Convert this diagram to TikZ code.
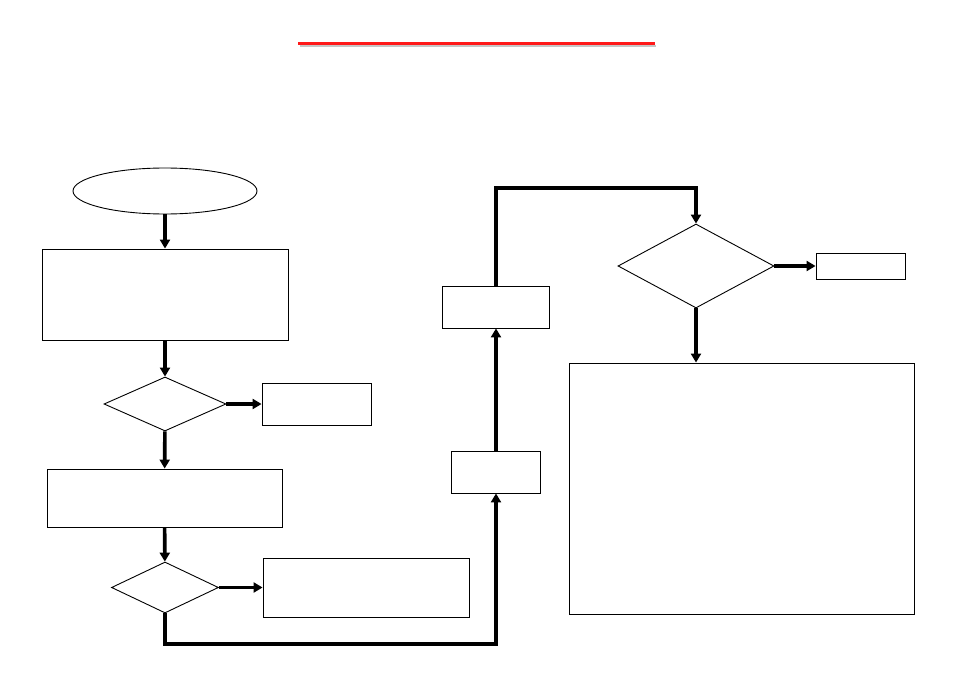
\documentclass[tikz,border=0pt]{standalone}
\usetikzlibrary{shapes.geometric,arrows.meta}

\begin{document}
\begin{tikzpicture}[x=1pt,y=-1pt,
    box/.style={draw,line width=0.9pt,inner sep=0pt},
    choice/.style={draw,diamond,line width=0.9pt,inner sep=0pt},
    flow/.style={line width=3.6pt,-{Triangle[length=9pt,width=10pt]}}]
      \useasboundingbox (0,0) rectangle (954,674);

      % title rule with its shadow
      \draw[line width=2.6pt,gray!45] (300,46) -- (656,46);
      \draw[line width=3pt,red!90!white] (298,44) -- (655,44);

      \node[draw,ellipse,line width=0.9pt,minimum width=184,minimum height=46] (start) at (165,191) {};
      \node[box,minimum width=246,minimum height=91] (b1) at (165,294.5) {};
      \node[choice,minimum width=122,minimum height=54] (d1) at (165,404) {};
      \node[box,minimum width=109,minimum height=42] (r1) at (316.5,404) {};
      \node[box,minimum width=235,minimum height=58] (b2) at (164.5,498) {};
      \node[choice,minimum width=107,minimum height=51] (d2) at (165,587.5) {};
      \node[box,minimum width=206,minimum height=59] (r2) at (366,587.5) {};

      \node[box,minimum width=89,minimum height=42] (b3) at (496,472) {};
      \node[box,minimum width=107,minimum height=42] (b4) at (496,307) {};

      \node[choice,minimum width=156,minimum height=84] (d3) at (696,266) {};
      \node[box,minimum width=89,minimum height=26] (r3) at (860.5,266) {};
      \node[box,minimum width=345,minimum height=251] (b5) at (741.5,488.5) {};

      \coordinate (turnA) at (165,644);
      \coordinate (turnB) at (496,188);

      \draw[flow] (start) -- (b1);
      \draw[flow] (b1) -- (d1);
      \draw[flow] (d1) -- (r1);
      \draw[flow] (d1) -- (b2);
      \draw[flow] (b2) -- (d2);
      \draw[flow] (d2) -- (r2);
      \draw[flow] (d2.south) -- (turnA) -| (b3.south);
      \draw[flow] (b3) -- (b4);
      \draw[flow] (b4.north) -- (turnB) -| (d3.north);
      \draw[flow] (d3) -- (r3);
      \draw[flow] (d3.south) -- (d3.south |- b5.north);
    \end{tikzpicture}
\end{document}
